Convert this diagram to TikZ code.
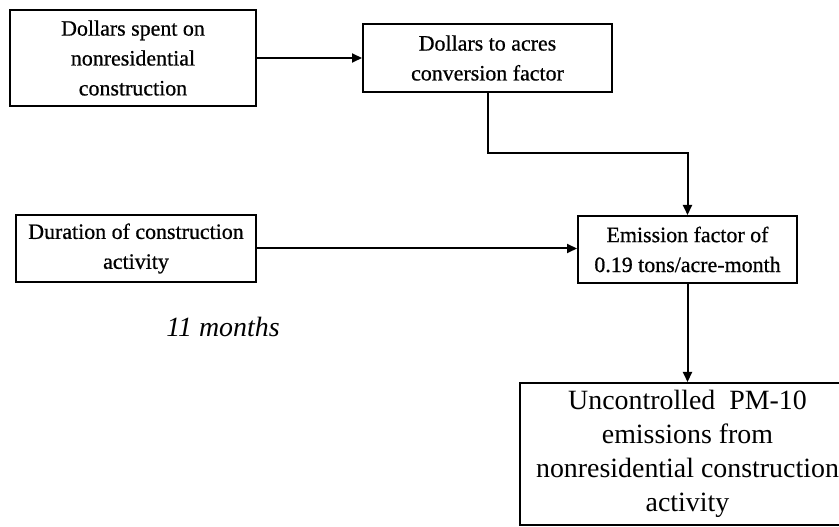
\documentclass[tikz,border=0pt]{standalone}
\usepackage{fontspec}
\setmainfont{Liberation Serif}
\usetikzlibrary{arrows.meta}
\begin{document}
\begin{tikzpicture}[x=1bp,y=-1bp,
  box/.style={draw,line width=2bp,align=center,inner sep=0pt,font=\fontsize{22}{30}\selectfont\addfontfeature{FakeBold=0.7}},
  bigbox/.style={draw,line width=2bp,align=center,inner sep=0pt,font=\fontsize{28}{34}\selectfont},
  conn/.style={line width=2bp,-{Triangle[length=10bp,width=9bp]}},
  hand/.style={font=\fontsize{28}{30}\selectfont\itshape}]
\useasboundingbox (0,0) rectangle (839,527);
\clip (0,0) rectangle (839,527);
\node[box,minimum width=246bp,minimum height=96bp] (b1) at (133,58) {Dollars spent on\\nonresidential\\construction};
\node[box,minimum width=249bp,minimum height=68bp] (b2) at (487.5,58) {Dollars to acres\\conversion factor};
\node[box,minimum width=240bp,minimum height=67bp] (b3) at (136,248.5) {Duration of construction\\activity};
\node[box,minimum width=219bp,minimum height=67bp] (b4) at (687.5,249.5) {Emission factor of\\0.19 tons/acre-month};
\node[bigbox,minimum width=335bp,minimum height=142bp] (b5) at (687.5,454) {Uncontrolled\ \ PM-10\\emissions from\\nonresidential construction\\activity};
\node[hand] (hw) at (223,327) {11 months};
\coordinate (k) at (487.5,153);
\draw[conn] (b1.east) -- (b1.east -| b2.west);
\draw[conn] (b2.south) -- (k) -| (b4.north);
\draw[conn] (b3.east) -- (b3.east -| b4.west);
\draw[conn] (b4.south) -- (b5.north);
\end{tikzpicture}
\end{document}
